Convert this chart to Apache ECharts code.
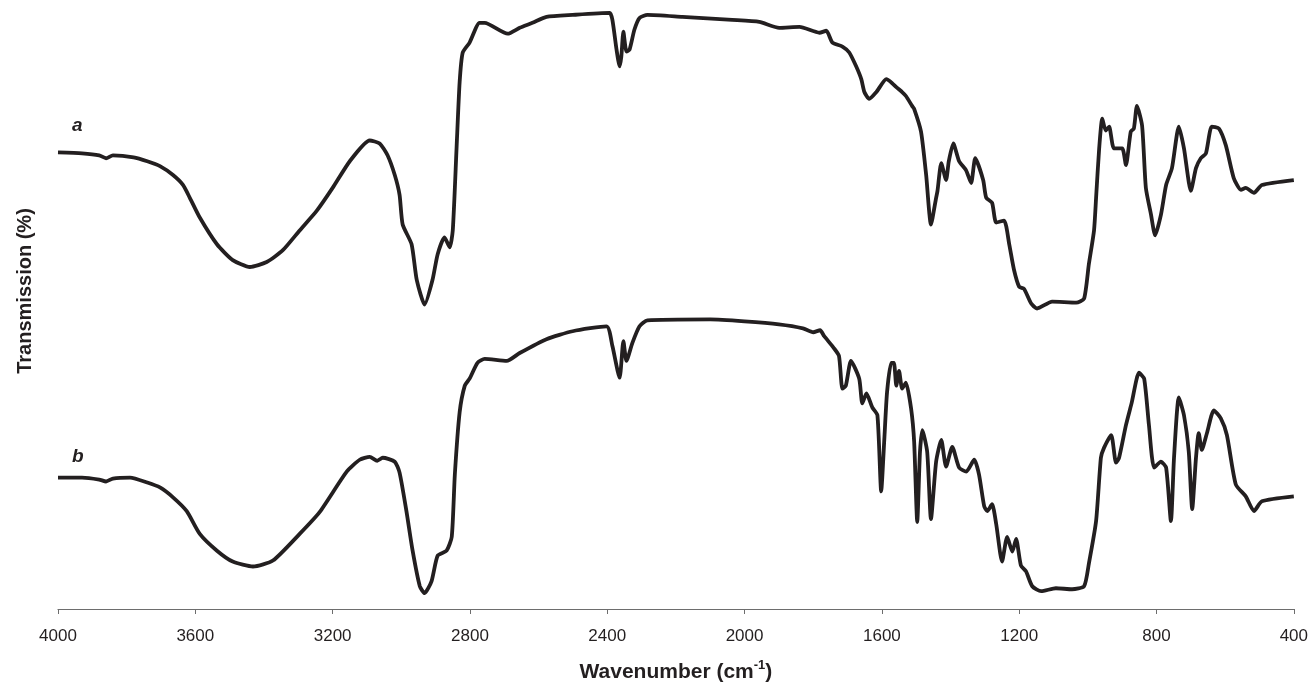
<!DOCTYPE html>
<html>
<head>
<meta charset="utf-8">
<script src="https://cdn.jsdelivr.net/npm/echarts@6/dist/echarts.min.js"></script>
<style>html,body{margin:0;padding:0;background:#fff}#c{width:1311px;height:688px}</style>
</head>
<body>
<div id="c"></div>
<script>
// Wavenumber tick labels
const xTicks = [4000, 3600, 3200, 2800, 2400, 2000, 1600, 1200, 800, 400];

// Spectrum a: wavenumber (cm-1) and relative transmission
const waveA = [4000,3930,3880,3860,3840,3780,3740,3703,3665,3636,3616,3587,3537,3491,3441,3392,3345,3296,3246,3200,3150,3092,3063,3040,3019,3005,2996,2970,2955,2932,2909,2894,2874,2859,2850,2839,2830,2821,2801,2772,2757,2690,2655,2618,2577,2501,2393,2385,2373,2364,2359,2353,2344,2335,2321,2306,2283,2181,2036,1957,1899,1840,1782,1762,1744,1715,1695,1675,1660,1651,1637,1616,1587,1570,1558,1541,1530,1512,1506,1486,1471,1457,1442,1438,1427,1413,1405,1392,1375,1355,1340,1328,1305,1296,1279,1267,1244,1229,1215,1200,1186,1165,1148,1104,1034,1011,997,982,976,967,958,948,938,924,900,889,875,866,857,842,831,816,804,787,772,755,735,720,700,685,671,656,639,618,598,575,554,540,516,493,400];
const transA = [462,461,459,456,459,457,453,448,439,429,416,396,369,353,346,351,363,383,403,426,453,474,471,459,439,419,389,369,333,308,333,359,376,366,383,466,533,563,573,593,593,582,588,593,599,601,603,596,566,549,559,584,564,566,586,598,601,599,596,594,588,589,583,585,573,569,563,549,536,523,516,523,536,532,528,523,519,509,506,483,439,389,416,423,451,434,453,471,453,444,431,456,434,416,411,391,393,369,343,326,324,309,304,311,310,314,349,383,416,466,496,484,488,466,466,449,483,486,509,489,426,399,378,399,429,446,488,466,423,446,456,461,488,486,469,436,424,426,421,429,434];

// Spectrum b
const waveB = [4000,3930,3880,3860,3840,3790,3740,3703,3665,3625,3587,3537,3491,3432,3374,3296,3238,3159,3121,3092,3070,3054,3019,3005,2985,2967,2946,2932,2912,2894,2868,2853,2844,2830,2815,2801,2778,2757,2693,2655,2577,2501,2402,2385,2364,2353,2344,2327,2306,2283,2100,2000,1900,1830,1800,1780,1768,1740,1725,1715,1705,1690,1666,1657,1645,1628,1613,1602,1593,1585,1573,1565,1558,1550,1541,1530,1515,1506,1497,1489,1482,1468,1457,1442,1427,1413,1395,1375,1354,1331,1317,1302,1293,1279,1267,1250,1235,1220,1209,1195,1180,1162,1136,1093,1046,1011,997,976,962,953,932,918,909,889,872,851,836,822,807,787,772,758,749,735,720,706,696,685,677,668,653,633,613,595,569,540,516,493,400];
const transB = [133,133,131,129,132,133,128,123,113,99,76,59,48,43,49,76,98,139,151,154,150,153,149,138,99,59,23,16,28,54,59,73,136,199,226,233,249,253,251,259,273,281,286,266,234,271,251,269,286,292,293,291,288,284,280,282,276,264,256,223,226,251,233,208,218,204,196,119,171,219,249,249,226,241,223,229,203,169,88,159,181,159,91,149,171,144,164,143,139,151,136,104,99,106,86,48,73,58,71,44,38,23,18,21,20,23,46,89,153,163,176,148,153,186,209,239,233,186,143,149,143,89,153,214,196,159,101,153,178,161,178,201,193,176,126,114,99,109,114];

const zip = (w, t) => w.map((v, i) => [v, t[i]]);

const chart = echarts.init(document.getElementById('c'), null, {renderer: 'canvas'});
const ink = '#231f20';
const lineStyle = {color: ink, width: 3.8};
const font = '"Liberation Sans", Arial, sans-serif';
chart.setOption({
  animation: false,
  backgroundColor: '#fff',
  grid: {left: 58, right: 16, top: 10, bottom: 72, containLabel: false},
  xAxis: {
    type: 'value', min: 400, max: 4000, interval: 400, inverse: true,
    name: '{t|Wavenumber (cm}{s|-1}{t|)}',
    nameLocation: 'middle', nameGap: 50,
    nameTextStyle: {
      rich: {
        t: {fontFamily: font, fontWeight: 'bold', fontSize: 21, color: ink, verticalAlign: 'bottom', lineHeight: 24},
        s: {fontFamily: font, fontWeight: 'bold', fontSize: 13, color: ink, verticalAlign: 'top', padding: [0, 0, 11, 0], lineHeight: 24}
      }
    },
    axisLine: {show: true, lineStyle: {color: '#6d6d6d', width: 1.2}},
    axisTick: {show: true, length: 5, lineStyle: {color: '#6d6d6d'}},
    splitLine: {show: false},
    axisLabel: {
      margin: 19, fontSize: 17, fontFamily: font, color: ink,
      formatter: v => xTicks.includes(v) ? String(v) : ''
    }
  },
  yAxis: {
    type: 'value', min: 0, max: 606,
    axisLine: {show: false}, axisTick: {show: false}, axisLabel: {show: false}, splitLine: {show: false}
  },
  graphic: [
    {type: 'text', x: 25, y: 291, rotation: Math.PI / 2,
      style: {text: 'Transmission (%)', font: 'bold 20px ' + font, fill: ink, align: 'center', verticalAlign: 'middle'}},
    {type: 'text', left: 72, top: 116, style: {text: 'a', font: 'italic bold 19px ' + font, fill: ink}},
    {type: 'text', left: 72, top: 447, style: {text: 'b', font: 'italic bold 19px ' + font, fill: ink}}
  ],
  series: [
    {type: 'line', name: 'a', data: zip(waveA, transA), showSymbol: false, symbol: 'none', smooth: 0.2, lineStyle: lineStyle},
    {type: 'line', name: 'b', data: zip(waveB, transB), showSymbol: false, symbol: 'none', smooth: 0.2, lineStyle: lineStyle}
  ]
});
</script>
</body>
</html>
